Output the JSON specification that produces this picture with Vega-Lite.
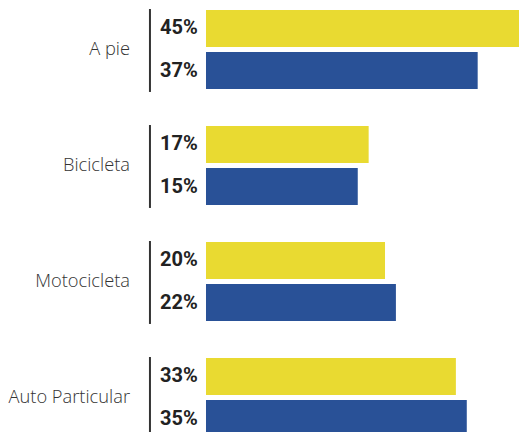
{
  "$schema": "https://vega.github.io/schema/vega-lite/v6.json",
  "width": 519,
  "height": 432,
  "autosize": {"type": "none"},
  "padding": 0,
  "background": "white",
  "config": {"view": {"stroke": null}},
  "data": {
    "values": [
      {"modo": "A pie", "serie": "1", "valor": 45},
      {"modo": "A pie", "serie": "2", "valor": 37},
      {"modo": "Bicicleta", "serie": "1", "valor": 17},
      {"modo": "Bicicleta", "serie": "2", "valor": 15},
      {"modo": "Motocicleta", "serie": "1", "valor": 20},
      {"modo": "Motocicleta", "serie": "2", "valor": 22},
      {"modo": "Auto Particular", "serie": "1", "valor": 33},
      {"modo": "Auto Particular", "serie": "2", "valor": 35}
    ]
  },
  "transform": [{"calculate": "datum.valor + '%'", "as": "etiqueta"}],
  "encoding": {
    "y": {
      "field": "modo",
      "type": "nominal",
      "sort": null,
      "axis": null,
      "scale": {"range": [-8.5, 455.5], "paddingInner": 0, "paddingOuter": 0}
    }
  },
  "layer": [
    {
      "mark": {"type": "bar", "clip": true},
      "encoding": {
        "x": {
          "field": "valor",
          "type": "quantitative",
          "axis": null,
          "scale": {"domain": [-50.63, 44.58], "nice": false, "zero": false}
        },
        "x2": {"datum": -12.84},
        "yOffset": {
          "field": "serie",
          "type": "nominal",
          "scale": {"paddingInner": 0.119, "paddingOuter": 0.44}
        },
        "color": {
          "field": "serie",
          "type": "nominal",
          "legend": null,
          "scale": {"domain": ["1", "2"], "range": ["#E9DA31", "#295197"]}
        }
      }
    },
    {
      "mark": {
        "type": "text",
        "align": "left",
        "baseline": "middle",
        "font": "Roboto",
        "fontWeight": "bold",
        "fontSize": 20,
        "color": "#222222"
      },
      "encoding": {
        "x": {"datum": -21.28},
        "yOffset": {"field": "serie", "type": "nominal"},
        "text": {"field": "etiqueta", "type": "nominal"}
      }
    },
    {
      "transform": [{"filter": "datum.serie == '1'"}],
      "mark": {"type": "rule", "strokeWidth": 2, "color": "#333333"},
      "encoding": {
        "x": {"datum": -23.12},
        "y": {"field": "modo", "type": "nominal", "sort": null, "bandPosition": 0.151},
        "y2": {"field": "modo", "bandPosition": 0.866}
      }
    },
    {
      "transform": [{"filter": "datum.serie == '1'"}],
      "mark": {
        "type": "text",
        "align": "right",
        "baseline": "middle",
        "font": "Open Sans",
        "fontWeight": 300,
        "fontSize": 18.3,
        "color": "#333333"
      },
      "encoding": {
        "x": {"datum": -26.78},
        "text": {"field": "modo", "type": "nominal"}
      }
    }
  ]
}
